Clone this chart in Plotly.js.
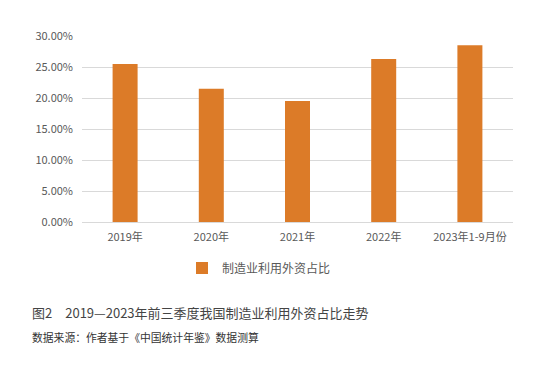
<!DOCTYPE html>
<html>
<head>
<meta charset="utf-8">
<script src="https://cdn.plot.ly/plotly-3.0.1.min.js"></script>
<style>html,body{margin:0;padding:0;background:#fff;}#chart{width:543px;height:365px;}</style>
</head>
<body>
<div id="chart"></div>
<script>
const categories = ["2019年", "2020年", "2021年", "2022年", "2023年1-9月份"];
const shareValues = [0.255, 0.215, 0.195, 0.263, 0.285];
const seriesName = "制造业利用外资占比";
const yTicks = [0, 0.05, 0.10, 0.15, 0.20, 0.25, 0.30];
const captionText = "图2　2019—2023年前三季度我国制造业利用外资占比走势";
const sourceText = "数据来源：作者基于《中国统计年鉴》数据测算";

const font = "Noto Sans CJK SC, Noto Sans, sans-serif";
const trace = {
  type: "bar",
  x: categories,
  y: shareValues,
  name: seriesName,
  marker: {color: "#DC7B28"},
  width: 0.29,
  showlegend: true,
  hoverinfo: "none"
};
const layout = {
  width: 543, height: 365,
  margin: {l: 82, r: 30, t: 36, b: 143},
  paper_bgcolor: "#fff", plot_bgcolor: "#fff",
  font: {family: font, color: "#595959", size: 11},
  xaxis: {
    type: "category",
    showgrid: false,
    showline: true, linecolor: "#d9d9d9", linewidth: 1,
    ticks: "", tickfont: {size: 11, color: "#595959"},
    ticklabelstandoff: 5,
    fixedrange: true
  },
  yaxis: {
    range: [0, 0.30],
    tickvals: yTicks,
    tickformat: ".2%",
    showgrid: true, gridcolor: "#d9d9d9", gridwidth: 1,
    zeroline: false, showline: false,
    ticks: "", ticklen: 0,
    ticklabelstandoff: 8,
    tickfont: {size: 11, color: "#595959"},
    fixedrange: true
  },
  showlegend: true,
  legend: {
    orientation: "h",
    x: (182 - 82) / 431, xanchor: "left",
    y: (222 - 268) / 186, yanchor: "middle",
    font: {size: 12, color: "#595959"},
    itemwidth: 30
  },
  annotations: [
    {text: captionText, xref: "paper", yref: "paper",
     x: (30 - 82) / 431, xanchor: "left",
     y: (222 - 312) / 186, yanchor: "middle",
     showarrow: false, font: {size: 13, color: "#444", family: font}},
    {text: sourceText, xref: "paper", yref: "paper",
     x: (30 - 82) / 431, xanchor: "left",
     y: (222 - 337) / 186, yanchor: "middle",
     showarrow: false, font: {size: 10.8, color: "#333", family: font}}
  ]
};
Plotly.newPlot("chart", [trace], layout, {displayModeBar: false, staticPlot: true});
</script>
</body>
</html>
